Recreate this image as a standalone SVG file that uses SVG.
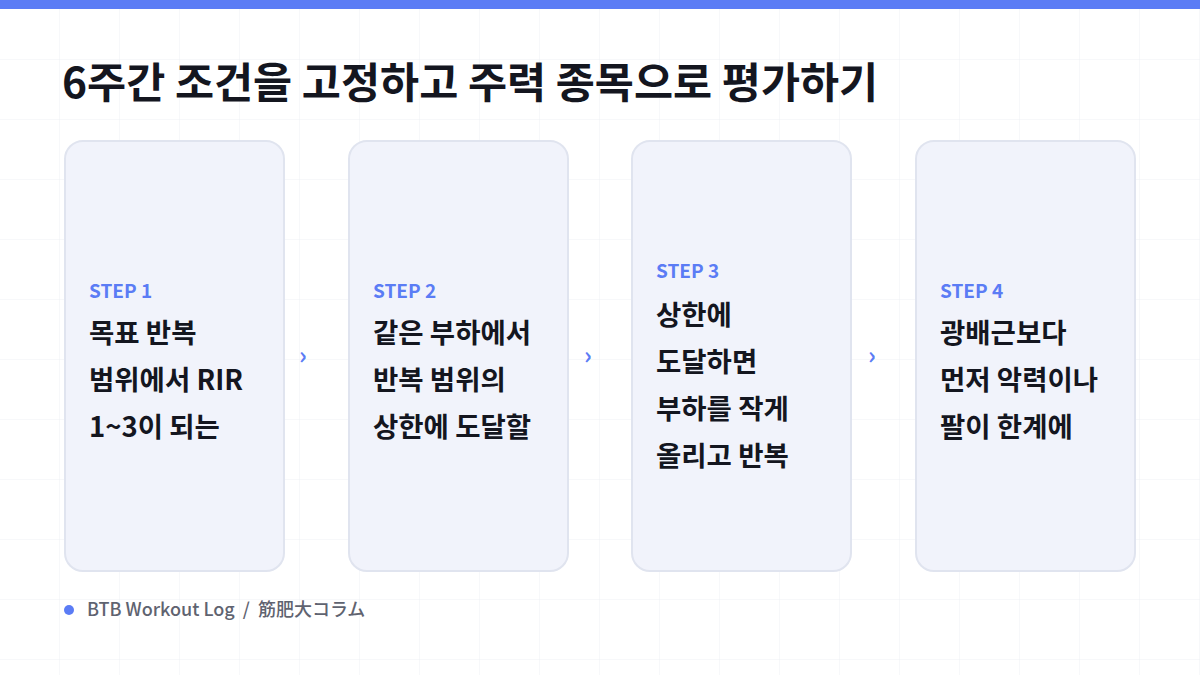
<svg xmlns="http://www.w3.org/2000/svg" width="1200" height="675" viewBox="0 0 1200 675">
<defs>
<pattern id="grid" width="60" height="60" patternUnits="userSpaceOnUse"><path d="M60 0V60M0 60H60" fill="none" stroke="#eef0f4" stroke-width="1"/></pattern>
</defs>
<style>
.card{fill:#f1f3fb;stroke:#e0e4ef;stroke-width:2}
.step{font-family:"Noto Sans CJK KR","Noto Sans",sans-serif;font-weight:700;font-size:19px;fill:#5b7cf5}
.body{font-family:"Noto Sans CJK KR","Noto Sans",sans-serif;font-weight:700;font-size:27.5px;fill:#14161f}
.arr{font-family:"Noto Sans CJK KR",sans-serif;font-weight:700;font-size:24px;fill:#5b7cf5}
</style>
<rect width="1200" height="675" fill="#ffffff"/>
<rect width="1200" height="675" fill="url(#grid)"/>
<rect width="1200" height="9" fill="#5b7cf5"/>
<text x="62" y="98" font-family="Noto Sans CJK KR,Noto Sans,sans-serif" font-weight="700" font-size="42.5" fill="#14161f">6주간 조건을 고정하고 주력 종목으로 평가하기</text>
<g id="step1"><rect class="card" x="65" y="141" width="219" height="430" rx="18"/>
<text class="step" x="89" y="298">STEP 1</text>
<text class="body" x="89" y="343">목표 반복</text><text class="body" x="89" y="390">범위에서 RIR</text><text class="body" x="89" y="437">1~3이 되는</text></g>
<g id="step2"><rect class="card" x="349" y="141" width="219" height="430" rx="18"/>
<text class="step" x="373" y="298">STEP 2</text>
<text class="body" x="373" y="343">같은 부하에서</text><text class="body" x="373" y="390">반복 범위의</text><text class="body" x="373" y="437">상한에 도달할</text></g>
<g id="step3"><rect class="card" x="632" y="141" width="219" height="430" rx="18"/>
<text class="step" x="656" y="278">STEP 3</text>
<text class="body" x="656" y="325">상한에</text><text class="body" x="656" y="372">도달하면</text><text class="body" x="656" y="419">부하를 작게</text><text class="body" x="656" y="466">올리고 반복</text></g>
<g id="step4"><rect class="card" x="916" y="141" width="219" height="430" rx="18"/>
<text class="step" x="940" y="298">STEP 4</text>
<text class="body" x="940" y="343">광배근보다</text><text class="body" x="940" y="390">먼저 악력이나</text><text class="body" x="940" y="437">팔이 한계에</text></g>
<g id="connectors">
<text class="arr" x="303" y="364" text-anchor="middle">›</text>
<text class="arr" x="588" y="364" text-anchor="middle">›</text>
<text class="arr" x="872" y="364" text-anchor="middle">›</text>
</g>
<circle cx="69" cy="610" r="5" fill="#5b7cf5"/>
<text x="87" y="616" xml:space="preserve" font-family="Noto Sans CJK KR,Noto Sans CJK JP,sans-serif" font-weight="500" font-size="18" fill="#5f6370">BTB Workout Log  /  筋肥大コラム</text>
</svg>
